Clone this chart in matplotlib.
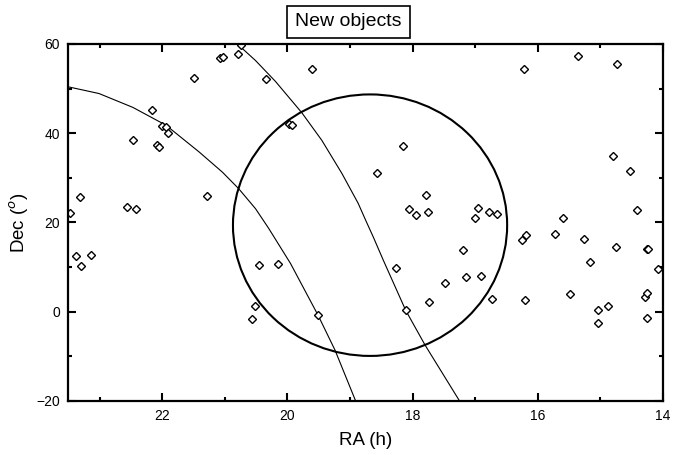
import numpy as np
import matplotlib.pyplot as plt
from matplotlib.patches import Ellipse
from matplotlib.ticker import MultipleLocator

plt.rcParams['font.family'] = ['Liberation Sans', 'DejaVu Sans']

# ---- dati ----
ra = [23.47, 23.31, 22.57, 22.42, 22.47, 22.09, 22.05, 22.16, 22.00, 21.94,
      21.90, 21.49, 21.28, 21.07, 21.03, 20.79, 20.74, 20.34, 19.60, 19.98,
      19.93, 18.16, 18.57, 17.79, 18.05, 17.95, 17.75, 16.22, 15.36, 14.73,
      14.80, 14.52, 14.42, 16.95, 17.00, 16.78, 16.65, 15.59, 23.38, 23.29,
      23.14, 20.46, 20.51, 20.56, 20.15, 19.51, 18.26, 18.11, 17.74, 17.48,
      17.19, 17.15, 16.91, 16.73, 16.25, 16.19, 16.20, 15.73, 15.27, 15.48,
      15.16, 15.04, 15.04, 14.88, 14.75, 14.26, 14.24, 14.08, 14.29, 14.25,
      14.25]
dec = [22.1, 25.7, 23.4, 23.0, 38.4, 37.3, 36.9, 45.3, 41.7, 41.3,
       40.0, 52.3, 26.0, 56.8, 57.0, 57.7, 59.7, 52.1, 54.3, 42.0,
       41.8, 37.1, 31.0, 26.2, 23.0, 21.7, 22.3, 54.3, 57.3, 55.6,
       34.8, 31.6, 22.8, 23.2, 21.0, 22.3, 21.9, 20.9, 12.5, 10.2,
       12.8, 10.5, 1.3, -1.6, 10.7, -0.8, 9.9, 0.3, 2.1, 6.4,
       13.8, 7.8, 8.0, 2.8, 16.0, 17.2, 2.6, 17.4, 16.4, 4.0,
       11.1, 0.5, -2.5, 1.3, 14.4, 14.0, 14.1, 9.5, 3.2, 4.1,
       -1.3]

# curva di sinistra
curve1_ra = [23.50, 23.01, 22.47, 21.94, 21.41, 21.04, 20.78, 20.51, 20.30,
             19.95, 19.51, 19.24, 18.91]
curve1_dec = [50.4, 48.9, 45.8, 41.8, 35.8, 31.3, 27.6, 23.1, 18.7,
              10.8, -0.8, -8.6, -20.0]

# curva di destra
curve2_ra = [20.80, 20.51, 20.19, 19.77, 19.45, 19.13, 18.87, 18.75, 18.63,
             18.47, 18.11, 17.80, 17.25]
curve2_dec = [60.0, 56.3, 51.6, 44.6, 38.4, 31.0, 24.3, 20.5, 16.8,
              11.6, 0.3, -7.5, -20.0]

# cerchio
circle_ra = 18.68
circle_dec = 19.4
circle_rx = 2.19
circle_ry = 29.3

fig = plt.figure(figsize=(6.86, 4.55), dpi=100)
ax = fig.add_axes([0.0996, 0.1187, 0.8669, 0.7846])

ax.plot(curve1_ra, curve1_dec, color='black', lw=0.8)
ax.plot(curve2_ra, curve2_dec, color='black', lw=0.8)
ax.add_patch(Ellipse((circle_ra, circle_dec), 2 * circle_rx, 2 * circle_ry,
                     fill=False, edgecolor='black', lw=1.5))
ax.plot(ra, dec, linestyle='none', marker='D', markersize=4.3,
        markerfacecolor='white', markeredgecolor='black', markeredgewidth=1.0)

ax.set_xlim(23.5, 14)
ax.set_ylim(-20, 60)
ax.xaxis.set_major_locator(MultipleLocator(2))
ax.xaxis.set_minor_locator(MultipleLocator(1))
ax.yaxis.set_major_locator(MultipleLocator(20))
ax.yaxis.set_minor_locator(MultipleLocator(10))
ax.tick_params(which='both', direction='in', top=True, right=True,
               width=1.5, labelsize=10)
ax.tick_params(which='major', length=5.5, pad=6)
ax.tick_params(which='minor', length=3)
for s in ax.spines.values():
    s.set_linewidth(1.6)

ax.set_xlabel("RA (h)", fontsize=13.5, labelpad=6)
ax.set_ylabel("Dec ($^{o}$)", fontsize=13.5, labelpad=4)

fig.text(0.508, 0.952, "New objects", fontsize=14, ha='center', va='center',
         bbox=dict(boxstyle='square,pad=0.4', facecolor='white',
                   edgecolor='black', lw=1.2))

fig.savefig("out.png", dpi=100)
